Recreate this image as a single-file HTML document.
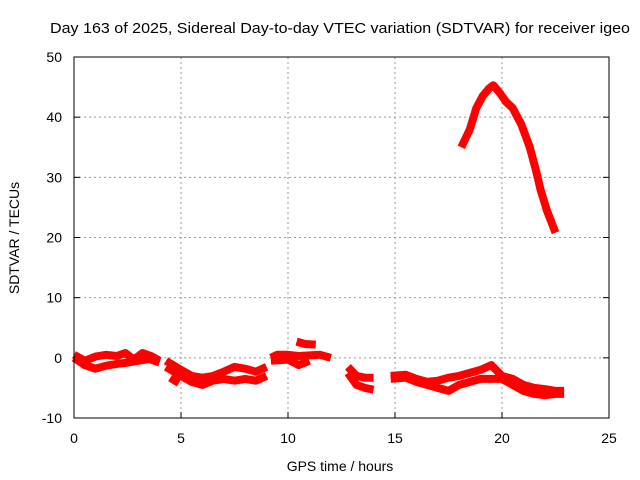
<!DOCTYPE html>
<html><head><meta charset="utf-8"><style>
html,body{margin:0;padding:0;background:#fff}
svg{display:block;font-family:"Liberation Sans",sans-serif}
</style></head><body>
<svg id="chart" width="640" height="480" xmlns="http://www.w3.org/2000/svg">
<rect width="640" height="480" fill="#fff"/>
<text x="340" y="33" font-size="15" text-anchor="middle" textLength="580" lengthAdjust="spacingAndGlyphs" fill="#000">Day 163 of 2025, Sidereal Day-to-day VTEC variation (SDTVAR) for receiver igeo</text>
<g id="grid"></g>
<g id="ticks"></g>
<g id="series"></g>
<rect x="74" y="57" width="535" height="361" fill="none" stroke="#000" stroke-width="1"/>
<text x="340" y="471" font-size="14" text-anchor="middle">GPS time / hours</text>
<text transform="translate(19,238) rotate(-90)" font-size="14" text-anchor="middle">SDTVAR / TECUs</text>
</svg>
<script>
const xTicks=[0,5,10,15,20,25];
const yTicks=[-10,0,10,20,30,40,50];
const segA_up_h=[0,0.5,1,1.5,2,2.4,2.8,3.2,3.6,4];
const segA_up_v=[0.5,-0.5,0.2,0.5,0.3,0.8,-0.3,0.8,0.3,-0.5];
const segA_lo_h=[0,0.5,1,1.5,2,2.5,3,3.5,4];
const segA_lo_v=[0,-1.2,-1.8,-1.3,-1,-0.8,-0.5,-0.2,-0.8];
const segB_up_h=[4.3,5,5.5,6,6.5,7,7.5,8,8.5,9];
const segB_up_v=[-0.5,-2,-3,-3.3,-3,-2.3,-1.5,-1.8,-2.3,-1.5];
const segB_lo_h=[4.3,5,5.5,6,6.5,7,7.5,8,8.5,9];
const segB_lo_v=[-1.5,-3,-4,-4.5,-3.8,-3.5,-3.8,-3.5,-3.8,-3];
const segB2_h=[4.5,4.9];
const segB2_v=[-3.3,-4.2];
const segC_up_h=[9.2,9.5,10,10.5,11,11.5,12];
const segC_up_v=[0,0.5,0.5,0.3,0.4,0.5,0];
const segC_lo_h=[9.2,10,10.5,11];
const segC_lo_v=[-0.5,-0.3,-1.2,-0.5];
const segC2_h=[10.4,10.8,11.3];
const segC2_v=[2.7,2.3,2.2];
const segD_up_h=[12.8,13.2,13.6,14];
const segD_up_v=[-1.5,-3,-3.3,-3.3];
const segD_lo_h=[12.8,13.2,13.6,14];
const segD_lo_v=[-2.5,-4.5,-5,-5.3];
const segE_up_h=[14.8,15.5,16,16.5,17,17.5,18,18.5,19,19.5,20,20.5,21,21.5,22,22.5,22.9];
const segE_up_v=[-3,-2.8,-3.5,-4,-3.8,-3.3,-3,-2.5,-2,-1.2,-3,-3.5,-4.5,-5,-5.2,-5.5,-5.5];
const segE_lo_h=[14.8,15.5,16,16.5,17,17.5,18,18.5,19,19.5,20,20.5,21,21.5,22,22.5,22.9];
const segE_lo_v=[-3.5,-3.3,-4,-4.5,-5,-5.5,-4.5,-4,-3.5,-3.5,-3.5,-4.5,-5.5,-6,-6.2,-6,-6];
const peak_h=[18.1,18.5,18.8,19.1,19.4,19.6,19.9,20.2,20.5,20.9,21.3,21.6,21.8,22.1,22.5];
const peak_v=[35,38,41.5,43.5,44.8,45.3,44,42.5,41.5,38.8,35,31,28,24.5,20.8];

const X0=74,X1=609,Y0=418,Y1=57;
const sx=h=>X0+(h-0)/(25-0)*(X1-X0);
const sy=v=>Y0-(v+10)/(60)*(Y0-Y1);
const NS="http://www.w3.org/2000/svg";
const grid=document.getElementById('grid'),ticks=document.getElementById('ticks'),series=document.getElementById('series');
function mk(tag,attrs){const e=document.createElementNS(NS,tag);for(const k in attrs)e.setAttribute(k,attrs[k]);return e;}
xTicks.forEach(t=>{
  const x=sx(t);
  if(t>0&&t<25){const l=mk('line',{x1:x,x2:x,y1:Y1,y2:Y0,stroke:'#999','stroke-dasharray':'2,3'});
  
  grid.appendChild(l);}
  const tk=mk('line',{x1:x,x2:x,y1:Y0,y2:Y0-6,stroke:'#000'});
  
  grid.appendChild(tk);
  const tx=mk('text',{x:x,y:443,'font-size':14,'text-anchor':'middle'});tx.textContent=t;
  
  ticks.appendChild(tx);
});
yTicks.forEach(t=>{
  const y=sy(t);
  if(t>-10&&t<50){const l=mk('line',{x1:X0,x2:X1,y1:y,y2:y,stroke:'#999','stroke-dasharray':'2,3'});
  
  grid.appendChild(l);}
  const tk=mk('line',{x1:X0,x2:X0+6,y1:y,y2:y,stroke:'#000'});
  
  grid.appendChild(tk);
  const tk2=mk('line',{x1:X1,x2:X1-6,y1:y,y2:y,stroke:'#000'});
  
  grid.appendChild(tk2);
  const tx=mk('text',{x:62,y:y+5,'font-size':14,'text-anchor':'end'});tx.textContent=t;
  
  ticks.appendChild(tx);
});
const segs=[[segA_up_h,segA_up_v],[segA_lo_h,segA_lo_v],[segB_up_h,segB_up_v],[segB_lo_h,segB_lo_v],[segB2_h,segB2_v],
[segC_up_h,segC_up_v],[segC_lo_h,segC_lo_v],[segC2_h,segC2_v],[segD_up_h,segD_up_v],[segD_lo_h,segD_lo_v],
[segE_up_h,segE_up_v],[segE_lo_h,segE_lo_v],[peak_h,peak_v]];
segs.forEach(([hs,vs])=>{
  const pts=hs.map((h,i)=>sx(h).toFixed(1)+','+sy(vs[i]).toFixed(1)).join(' ');
  const p=mk('polyline',{points:pts,fill:'none',stroke:'#f00','stroke-width':8,'stroke-linejoin':'round','stroke-linecap':'butt'});
  
  
  series.appendChild(p);
});
</script>
</body></html>
